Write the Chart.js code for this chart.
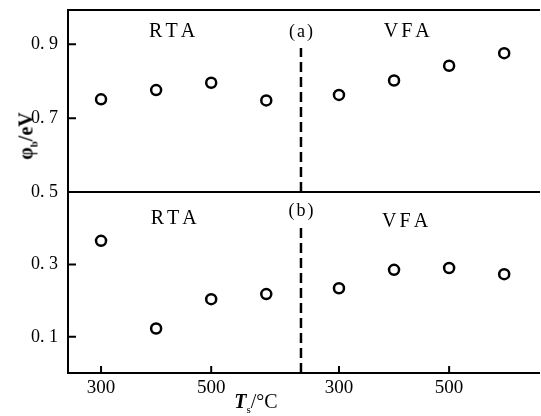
<!DOCTYPE html>
<html><head><meta charset="utf-8">
<script src="https://cdn.jsdelivr.net/npm/chart.js@4"></script>
<style>
body{margin:0;background:#fff;width:541px;height:416px;position:relative;overflow:hidden;font-family:"Liberation Serif",serif;color:#000;}
#wa{position:absolute;left:0;top:0;width:541px;height:210px;}
#wb{position:absolute;left:0;top:170px;width:541px;height:246px;}
canvas{display:block;}
.yt{position:absolute;left:27px;top:136px;transform:translate(-50%,-50%) rotate(-90deg);font-size:20px;white-space:nowrap;font-weight:bold;}
.xt{position:absolute;left:256px;top:402px;transform:translate(-50%,-50%);font-size:20px;white-space:nowrap;}
sub{font-size:11px;}
</style></head>
<body>
<div id="wb"><canvas id="cb" width="541" height="246" style="width:541px;height:246px"></canvas></div>
<div id="wa"><canvas id="ca" width="541" height="210" style="width:541px;height:210px"></canvas></div>
<div class="yt">φ<sub>b</sub>/eV</div>
<div class="xt"><i><b>T</b></i><sub>s</sub>/°C</div>
<script>
// ---- data ----
const tempsRTA = [300, 400, 500, 600];
const tempsVFA = [300, 400, 500, 600];
const phiA_RTA = [0.751, 0.776, 0.796, 0.748];
const phiA_VFA = [0.763, 0.802, 0.842, 0.876];
const phiB_RTA = [0.365, 0.123, 0.204, 0.218];
const phiB_VFA = [0.234, 0.285, 0.290, 0.273];
const vfaOffset = 432;          // VFA temperatures are shifted along the shared axis
const dividerX = 663;           // position of dashed divider on the shared axis
const xTickValues = [300, 500, 300 + vfaOffset, 500 + vfaOffset];
const xTickLabels = ['300', '500', '300', '500'];
const yTicksA = [0.5, 0.7, 0.9];
const yTicksB = [0.1, 0.3];
const labelsA = [{t:'RTA', x:429, y:0.934}, {t:'(a)', x:663, y:0.934}, {t:'VFA', x:855, y:0.934}];
const labelsB = [{t:'RTA', x:432, y:0.425}, {t:'(b)', x:663, y:0.448}, {t:'VFA', x:852, y:0.417}];

const pts = (xs, ys, off) => xs.map((x, i) => ({x: x + off, y: ys[i]}));
const fmt = v => v.toFixed(1).replace('.', '. ');

function spacedText(ctx, text, cx, cy, sp) {
  const chars = [...text];
  const widths = chars.map(c => ctx.measureText(c).width);
  const total = widths.reduce((s, w) => s + w, 0) + sp * (chars.length - 1);
  let x = cx - total / 2;
  ctx.textAlign = 'left';
  chars.forEach((c, i) => { ctx.fillText(c, x, cy); x += widths[i] + sp; });
}

const framePlugin = {
  id: 'frame',
  afterDraw(chart, args, opts) {
    const {ctx, chartArea: a, scales} = chart;
    ctx.save();
    ctx.strokeStyle = '#000';
    ctx.lineWidth = 2;
    ctx.beginPath();
    ctx.moveTo(a.left, a.top); ctx.lineTo(a.left, a.bottom);
    ctx.moveTo(a.left - 1, a.top); ctx.lineTo(a.right, a.top);
    ctx.moveTo(a.left - 1, a.bottom); ctx.lineTo(a.right, a.bottom);
    scales.y.ticks.forEach(t => {
      const py = scales.y.getPixelForValue(t.value);
      ctx.moveTo(a.left, py); ctx.lineTo(a.left + 8, py);
    });
    if (opts.xTicks) {
      scales.x.ticks.forEach(t => {
        const px = scales.x.getPixelForValue(t.value);
        ctx.moveTo(px, a.bottom); ctx.lineTo(px, a.bottom - 7);
      });
    }
    ctx.stroke();
    ctx.fillStyle = '#000';
    ctx.textBaseline = 'middle';
    (opts.labels || []).forEach(l => {
      const px = scales.x.getPixelForValue(l.x), py = scales.y.getPixelForValue(l.y);
      if (l.t[0] === '(') { ctx.font = '18px "Liberation Serif"'; spacedText(ctx, l.t, px, py, 2); }
      else { ctx.font = '20px "Liberation Serif"'; spacedText(ctx, l.t, px, py, 3); }
    });
    ctx.restore();
  }
};

function makeChart(id, rta, vfa, yMin, yMax, yTicks, dashTop, labels, showX, pad) {
  const ptStyle = {type:'scatter', pointStyle:'circle', pointRadius:5, pointBorderWidth:2.5,
                   pointBackgroundColor:'#fff', pointBorderColor:'#000', showLine:false};
  return new Chart(document.getElementById(id), {
    type: 'scatter',
    data: { datasets: [
      Object.assign({data: pts(tempsRTA, rta, 0)}, ptStyle),
      Object.assign({data: pts(tempsVFA, vfa, vfaOffset)}, ptStyle),
      {type:'line', data:[{x:dividerX, y:yMin}, {x:dividerX, y:dashTop}], borderColor:'#000',
       borderWidth:2.5, borderDash:[10,5], pointRadius:0, fill:false}
    ]},
    options: {
      responsive:false, maintainAspectRatio:false, animation:false, devicePixelRatio:1,
      layout:{padding:pad, autoPadding:false},
      plugins:{legend:{display:false}, tooltip:{enabled:false}, frame:{labels, xTicks:showX}},
      scales:{
        x:{type:'linear', min:240, max:1097, display:showX,
           afterBuildTicks: s => { s.ticks = xTickValues.map(v => ({value:v})); },
           afterFit: s => { s.height = showX ? 43 : 0; s.paddingLeft = 0; s.paddingRight = 0; },
           grid:{display:false, drawTicks:false}, border:{display:false},
           ticks:{padding:4, color:'#000', font:{family:'Liberation Serif', size:19},
                  callback:(v, i) => xTickLabels[i]}},
        y:{type:'linear', min:yMin, max:yMax,
           afterBuildTicks: s => { s.ticks = yTicks.map(v => ({value:v})); },
           afterFit: s => { s.width = 68; s.paddingTop = 0; s.paddingBottom = 0; },
           grid:{display:false, drawTicks:false}, border:{display:false},
           ticks:{padding:10, color:'#000', font:{family:'Liberation Serif', size:18},
                  callback: v => fmt(v)}}
      }
    },
    plugins:[framePlugin]
  });
}

makeChart('ca', phiA_RTA, phiA_VFA, 0.5, 0.993, yTicksA, 0.89, labelsA, false, {top:10, bottom:18, left:0, right:1});
makeChart('cb', phiB_RTA, phiB_VFA, 0, 0.5, yTicksB, 0.412, labelsB, true, {top:22, bottom:0, left:0, right:1});
</script>
</body></html>
